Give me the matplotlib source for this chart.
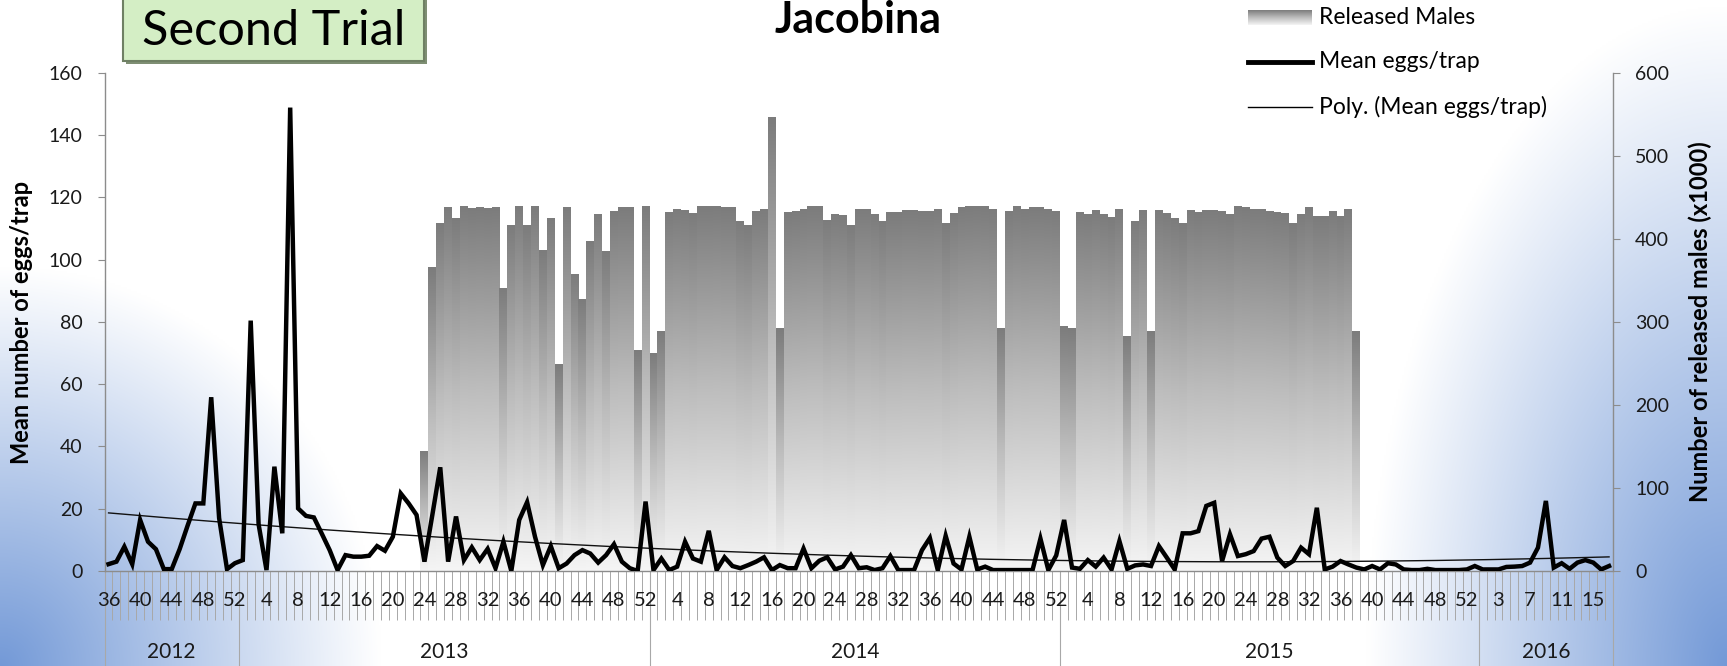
import numpy as np
import matplotlib
matplotlib.use("Agg")
import matplotlib.pyplot as plt
from matplotlib.colors import LinearSegmentedColormap, to_rgb
from matplotlib.patches import Rectangle
from matplotlib.lines import Line2D

plt.rcParams['font.family'] = ['Lato', 'DejaVu Sans']

# ---------------------------------------------------------------- data
# Weekly series from 2012 week 36 to 2016 week 17
years = [2012, 2013, 2014, 2015, 2016]
first_week = [36, 1, 1, 1, 1]
weeks_in_year = [17, 52, 52, 53, 17]

# Mean number of eggs per trap, one value per week
mean_eggs = [
    2.2, 3.0, 7.8, 2.2, 16.4, 9.4, 7.0, 0.6, 0.6, 7.0,
    14.5, 21.7, 21.7, 55.8, 17.0, 0.6, 2.5, 3.5, 80.4, 15.0,
    0.3, 33.5, 12.1, 148.8, 20.1, 17.7, 17.2, 12.0, 6.7, 0.3,
    5.1, 4.6, 4.6, 4.9, 8.0, 6.5, 11.0, 24.9, 21.7, 18.0,
    3.0, 18.0, 33.3, 3.0, 17.5, 3.5, 7.6, 3.5, 7.1, 0.9,
    9.4, 0.0, 16.4, 22.1, 11.0, 1.9, 8.0, 0.9, 2.4, 5.1,
    6.7, 5.6, 2.7, 5.1, 8.6, 3.0, 0.9, 0.0, 22.3, 0.3,
    4.0, 0.3, 1.4, 9.4, 4.0, 3.0, 12.9, 0.3, 4.4, 1.6,
    0.9, 1.9, 3.0, 4.4, 0.3, 1.9, 0.9, 0.9, 7.2, 0.9,
    3.3, 4.4, 0.5, 1.4, 5.1, 0.9, 1.2, 0.3, 0.9, 4.8,
    0.3, 0.3, 0.3, 6.7, 10.6, 0.3, 11.3, 2.4, 0.5, 11.0,
    0.5, 1.4, 0.3, 0.3, 0.3, 0.3, 0.3, 0.3, 10.4, 0.3,
    5.0, 16.4, 1.1, 0.7, 3.5, 1.4, 4.3, 0.5, 9.6, 0.7,
    1.8, 2.1, 1.6, 8.0, 4.3, 0.5, 12.1, 12.1, 12.8, 20.9,
    21.9, 3.2, 11.8, 4.8, 5.4, 6.4, 10.4, 11.0, 4.3, 1.6,
    3.2, 7.5, 5.4, 20.3, 0.5, 1.4, 3.2, 2.1, 1.1, 0.5,
    1.6, 0.5, 2.5, 2.1, 0.5, 0.3, 0.3, 0.7, 0.3, 0.3,
    0.3, 0.3, 0.5, 1.6, 0.5, 0.5, 0.5, 1.3, 1.4, 1.6,
    2.7, 7.5, 22.5, 1.1, 2.5, 0.7, 2.7, 3.5, 2.7, 0.5, 1.6,
]

# Released males (x1000), weekly from 2013 week 24 onwards
release_start = 40
released_males = [
    145, 366, 419, 438, 425, 439, 437, 438, 437, 438,
    341, 417, 440, 417, 439, 386, 425, 249, 438, 358,
    327, 397, 430, 385, 434, 438, 438, 266, 439, 263,
    289, 432, 436, 435, 431, 439, 439, 440, 438, 438,
    422, 417, 434, 436, 547, 292, 432, 434, 436, 439,
    439, 423, 430, 429, 417, 436, 436, 430, 421, 432,
    432, 435, 435, 434, 434, 436, 419, 431, 438, 439,
    440, 439, 436, 293, 434, 439, 436, 438, 438, 436,
    434, 295, 293, 432, 430, 435, 430, 426, 436, 283,
    422, 435, 289, 435, 431, 425, 419, 435, 432, 435,
    435, 433, 430, 440, 438, 436, 436, 434, 432, 431,
    419, 430, 438, 427, 427, 433, 427, 436, 289,
]

# ---------------------------------------------------------------- layout
W, H = 1727, 666
fig = plt.figure(figsize=(W / 100, H / 100), dpi=100)

# slide background: white centre fading to blue in the lower corners
bg = fig.add_axes([0, 0, 1, 1], zorder=-10)
bg.axis('off')
yy, xx = np.mgrid[0:H:2, 0:W:2].astype(float)
d_left = np.sqrt((xx / 380.0) ** 2 + ((H - yy) / 400.0) ** 2)
d_right = np.sqrt(((W - xx) / 360.0) ** 2 + ((H - yy) / 660.0) ** 2)
t = np.maximum(np.clip(1 - d_left, 0, 1), np.clip(1 - d_right, 0, 1)) ** 1.0
blue = np.array(to_rgb('#7399d7'))
bg_img = 1 - t[..., None] * (1 - blue)
bg.imshow(bg_img, aspect='auto', interpolation='bilinear')

x_left, x_right = 104.6, 1613.0
y_top, y_bot = 72.7, 571.0
rect = [x_left / W, 1 - y_bot / H, (x_right - x_left) / W, (y_bot - y_top) / H]
ax = fig.add_axes(rect)
ax2 = ax.twinx()
ax.set_zorder(ax2.get_zorder() + 1)
ax.patch.set_visible(False)
ax2.patch.set_visible(False)

n = len(mean_eggs)
x = np.arange(n)

# ---------------------------------------------------------------- bars (right axis)
grey = LinearSegmentedColormap.from_list('bar_grad', ['#f5f5f5', '#bdbdbd', '#7c7c7c'])
grad = np.linspace(0, 1, 256).reshape(-1, 1)
bar_pos = np.arange(release_start, release_start + len(released_males))
bars = ax2.bar(bar_pos, released_males, width=1.0, color='none', edgecolor='none')
for b in bars:
    x0, h = b.get_x(), b.get_height()
    im = ax2.imshow(grad, extent=[x0, x0 + b.get_width(), 0, h], origin='lower',
                    aspect='auto', cmap=grey, vmin=0, vmax=1, interpolation='bilinear',
                    zorder=1)
    im.set_clip_path(b)

# ---------------------------------------------------------------- line + trend (left axis)
ax.plot(x, mean_eggs, color='black', lw=3.2, zorder=3, solid_joinstyle='miter')
coef = np.polyfit(x, mean_eggs, 2)
ax.plot(x, np.polyval(coef, x), color='#111111', lw=1.0, zorder=2)

ax.set_xlim(-0.5, n - 0.5)
ax.set_ylim(0, 160)
ax2.set_ylim(0, 600)

axis_grey = '#8c8c8c'
tick_col = '#1a1a1a'
for a in (ax, ax2):
    for s in a.spines.values():
        s.set_visible(False)
ax.spines['left'].set_visible(True)
ax.spines['bottom'].set_visible(True)
ax2.spines['right'].set_visible(True)
for s in (ax.spines['left'], ax.spines['bottom'], ax2.spines['right']):
    s.set_color(axis_grey)
    s.set_linewidth(1.0)

ax.set_yticks(np.arange(0, 161, 20))
ax.tick_params(axis='y', direction='out', length=5, width=0.8, color=axis_grey,
               labelsize=14, labelcolor=tick_col, pad=11)
ax2.set_yticks(np.arange(0, 601, 100))
ax2.tick_params(axis='y', direction='out', length=5, width=0.8, color=axis_grey,
                labelsize=14, labelcolor=tick_col, pad=11)

# week numbers along the category axis
week_numbers = []
for fw, nw in zip(first_week, weeks_in_year):
    week_numbers.extend(range(fw, fw + nw))
label_idx = np.arange(0, n, 4)
ax.set_xticks(np.arange(-0.5, n, 1.0))
ax.set_xticklabels([])
ax.tick_params(axis='x', which='major', direction='out', length=35, width=0.7,
               color='#a8a8a8')
ax.set_xticks(label_idx, minor=True)
ax.set_xticklabels([str(week_numbers[i]) for i in label_idx], minor=True)
ax.tick_params(axis='x', which='minor', length=0, pad=15, labelsize=14.5,
               labelcolor=tick_col)

# year groups: separators and labels below the week numbers
xtrans = ax.get_xaxis_transform()
axes_h = y_bot - y_top
bounds = np.concatenate([[-0.5], np.cumsum(weeks_in_year) - 0.5])
for bx in bounds:
    ax.plot([bx, bx], [0, -(H - y_bot + 5) / axes_h], transform=xtrans,
            color='#a8a8a8', lw=0.8, clip_on=False, zorder=1)
for yr, lo, hi in zip(years, bounds[:-1], bounds[1:]):
    ax.text((lo + hi) / 2, -(652 - y_bot) / axes_h, str(yr), transform=xtrans,
            ha='center', va='center', fontsize=15, color=tick_col)

# ---------------------------------------------------------------- titles and labels
fig.text(858 / W, 1 - 33 / H, 'Jacobina', ha='center', va='baseline',
         fontsize=31, fontweight='bold', color='black')
fig.text(22 / W, 1 - 322 / H, 'Mean number of eggs/trap', rotation=90,
         ha='center', va='center', fontsize=17, fontweight='bold', color='black')
fig.text(1700 / W, 1 - 322 / H, 'Number of released males (x1000)', rotation=90,
         ha='center', va='center', fontsize=17, fontweight='bold', color='black')

# "Second Trial" badge
fig.add_artist(Rectangle((126 / W, 1 - 64 / H), 301 / W, 70 / H, transform=fig.transFigure,
                         facecolor='#7f8f74', edgecolor='none', zorder=5))
fig.add_artist(Rectangle((123 / W, 1 - 61 / H), 301 / W, 70 / H, transform=fig.transFigure,
                         facecolor='#d4eec5', edgecolor='#6f8064', lw=1.5, zorder=6))
fig.text(273.5 / W, 1 - 45 / H, 'Second Trial', ha='center', va='baseline',
         fontsize=35, color='black', zorder=7)

# ---------------------------------------------------------------- legend
lx0, lx1, ltx = 1248, 1312, 1319
lg = fig.add_axes([lx0 / W, 1 - 25 / H, (lx1 - lx0) / W, 15 / H])
lg.imshow(grad, origin='lower', aspect='auto', cmap=grey, vmin=0, vmax=1,
          interpolation='bilinear')
lg.axis('off')
fig.add_artist(Line2D([lx0 / W, lx1 / W], [1 - 62 / H] * 2, color='black', lw=3.5))
fig.add_artist(Line2D([lx0 / W, lx1 / W], [1 - 107 / H] * 2, color='black', lw=1.0))
for ty, txt in [(17, 'Released Males'), (62, 'Mean eggs/trap'),
                (107, 'Poly. (Mean eggs/trap)')]:
    fig.text(ltx / W, 1 - ty / H, txt, ha='left', va='center', fontsize=16.5,
             color='black')

fig.savefig('out.png', dpi=100)
